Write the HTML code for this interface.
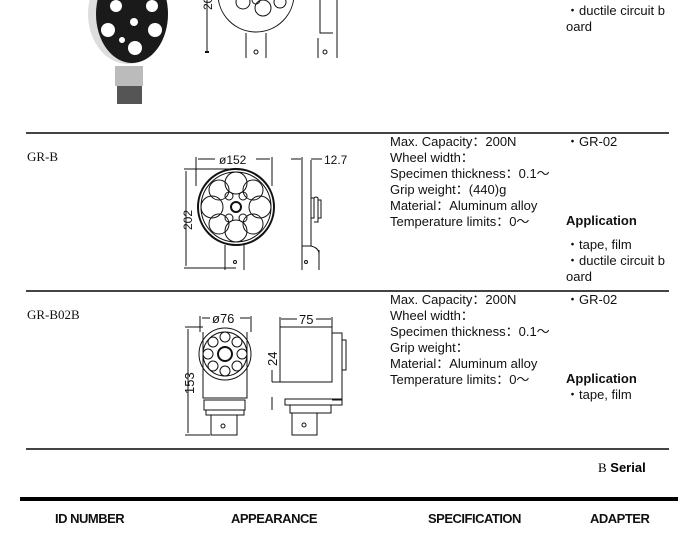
<!DOCTYPE html>
<html><head><meta charset="utf-8"><style>
body{margin:0;width:700px;height:534px;background:#fff;position:relative;overflow:hidden;font-family:"Liberation Sans",Arial,sans-serif;}
.t{position:absolute;font-size:13px;line-height:16px;color:#111;white-space:nowrap}
.id{position:absolute;font-family:"Liberation Serif",serif;font-size:13px;color:#111}
.h{position:absolute;top:511px;font-weight:bold;font-size:13px;letter-spacing:-0.5px;color:#111}
.hr{position:absolute;left:26px;width:643px;height:2px;background:#444}
</style></head><body>
<div class="hr" style="top:132px"></div>
<div class="hr" style="top:290px"></div>
<div class="hr" style="top:448px"></div>
<div style="position:absolute;left:20px;top:497px;width:658px;height:4px;background:#000"></div>

<div class="t" style="left:566px;top:3px">・ductile circuit b<br>oard</div>

<div class="id" style="left:27px;top:149px">GR-B</div>
<div class="t" style="left:390px;top:134px">Max. Capacity：200N<br>Wheel width：<br>Specimen thickness：0.1～<br>Grip weight：(440)g<br>Material：Aluminum alloy<br>Temperature limits：0～</div>
<div class="t" style="left:566px;top:134px">・GR-02</div>
<div class="t" style="left:566px;top:213px;font-weight:bold">Application</div>
<div class="t" style="left:566px;top:237px">・tape, film<br>・ductile circuit b<br>oard</div>

<div class="id" style="left:27px;top:307px">GR-B02B</div>
<div class="t" style="left:390px;top:292px">Max. Capacity：200N<br>Wheel width：<br>Specimen thickness：0.1～<br>Grip weight：<br>Material：Aluminum alloy<br>Temperature limits：0～</div>
<div class="t" style="left:566px;top:292px">・GR-02</div>
<div class="t" style="left:566px;top:371px;font-weight:bold">Application</div>
<div class="t" style="left:566px;top:387px">・tape, film</div>

<div style="position:absolute;left:598px;top:460px;font-size:13px;font-weight:bold"><span style="font-family:'Liberation Serif',serif;font-weight:normal">B</span> Serial</div>
<div class="h" style="left:55px">ID NUMBER</div>
<div class="h" style="left:231px">APPEARANCE</div>
<div class="h" style="left:428px">SPECIFICATION</div>
<div class="h" style="left:590px">ADAPTER</div>

<svg width="700" height="534" style="position:absolute;left:0;top:0" fill="none" stroke="#111" stroke-width="1">
<!-- photo -->
<ellipse cx="128" cy="14" rx="40" ry="50" fill="#ddd" stroke="none"/>
<ellipse cx="132" cy="14" rx="36" ry="49" fill="#1a1a1a" stroke="none"/>
<g fill="#fff" stroke="none">
<circle cx="108" cy="30" r="7"/><circle cx="135" cy="48" r="7"/><circle cx="155" cy="30" r="7"/><circle cx="152" cy="6" r="6"/><circle cx="116" cy="6" r="6"/><circle cx="134" cy="22" r="4"/><circle cx="122" cy="40" r="3"/></g>
<rect x="115" y="66" width="28" height="20" fill="#bbb" stroke="none"/>
<rect x="117" y="86" width="25" height="18" fill="#555" stroke="none"/>
<!-- top drawing partial -->
<path d="M218 -6 A38 38 0 0 0 294 -6"/>
<circle cx="243" cy="2" r="7"/><circle cx="263" cy="8" r="8"/><circle cx="256" cy="0" r="4"/><circle cx="280" cy="2" r="6"/>
<path d="M246 33V58M266 33V58M320 0V33H333M318 38V58M337 0V58"/>
<circle cx="256" cy="52" r="2"/><circle cx="325" cy="52" r="2"/>
<path d="M207 0V52"/><path d="M205 52h4" stroke-width="2"/>
<text x="212" y="10" font-size="12" fill="#111" stroke="none" transform="rotate(-90 212 10)" font-family="Liberation Sans">202</text>

<!-- GR-B drawing -->
<circle cx="236" cy="207" r="38" stroke-width="2"/>
<circle cx="236" cy="207" r="35"/>
<g>
<circle cx="236" cy="183" r="11"/><circle cx="236" cy="231" r="11"/><circle cx="212" cy="207" r="11"/><circle cx="260" cy="207" r="11"/>
<circle cx="219" cy="190" r="10"/><circle cx="253" cy="190" r="10"/><circle cx="219" cy="224" r="10"/><circle cx="253" cy="224" r="10"/>
<circle cx="229" cy="196" r="4"/><circle cx="243" cy="196" r="4"/><circle cx="229" cy="218" r="4"/><circle cx="243" cy="218" r="4"/>
<circle cx="236" cy="207" r="5" stroke-width="2"/>
</g>
<path d="M225 245V270M244 245V270"/><circle cx="235" cy="262" r="1.5"/>
<path d="M196 157V186M272 157V186M198 159H215M256 159H270"/>
<text x="219" y="164" font-size="12" fill="#111" stroke="none">ø152</text>
<path d="M184 169H236M184 268H236M186 171V266"/>
<text x="192" y="230" font-size="12" fill="#111" stroke="none" transform="rotate(-90 192 230)">202</text>
<path d="M302 157V246H311V160M302 246L302 270M319 250V270M311 246Q319 248 319 254M311 198H314V218H311M314 198Q316 196 318 198V222H314M318 200H321V218H318"/>
<path d="M291 159H301M311 159H322"/>
<text x="324" y="164" font-size="12" fill="#111" stroke="none">12.7</text>
<circle cx="306" cy="262" r="1.5"/>

<!-- GR-B02B -->
<path d="M203 332V398H247V332M204 400H245V410H204ZM206 410H244V415H206ZM211 415V435H237V415"/>
<circle cx="225" cy="354" r="26"/><circle cx="225" cy="354" r="22"/>
<g><circle cx="225" cy="337" r="5"/><circle cx="225" cy="371" r="5"/><circle cx="208" cy="354" r="5"/><circle cx="242" cy="354" r="5"/>
<circle cx="213" cy="342" r="5"/><circle cx="237" cy="342" r="5"/><circle cx="213" cy="366" r="5"/><circle cx="237" cy="366" r="5"/>
<circle cx="225" cy="354" r="7" stroke-width="2"/></g>
<circle cx="223" cy="426" r="2"/>
<path d="M200 316V332M251 316V332M202 318H210M240 318H250"/>
<text x="212" y="323" font-size="13" fill="#111" stroke="none">ø76</text>
<path d="M185 327H203M185 435H210M188 329V433"/>
<text x="194" y="394" font-size="13" fill="#111" stroke="none" transform="rotate(-90 194 394)">153</text>
<path d="M280 327V382H332V327ZM280 382H272M332 333H342V400H332M342 340H346V370H342M285 399H342V405H285ZM290 405H331V413H290ZM292 413V435H317V413"/>
<path d="M280 317V327M332 317V327M281 319H297M316 319H331"/>
<text x="299" y="324" font-size="13" fill="#111" stroke="none">75</text>
<path d="M272 370V382M272 397V410"/>
<text x="277" y="366" font-size="13" fill="#111" stroke="none" transform="rotate(-90 277 366)">24</text>
<circle cx="304" cy="425" r="2"/>
</svg>
</body></html>
